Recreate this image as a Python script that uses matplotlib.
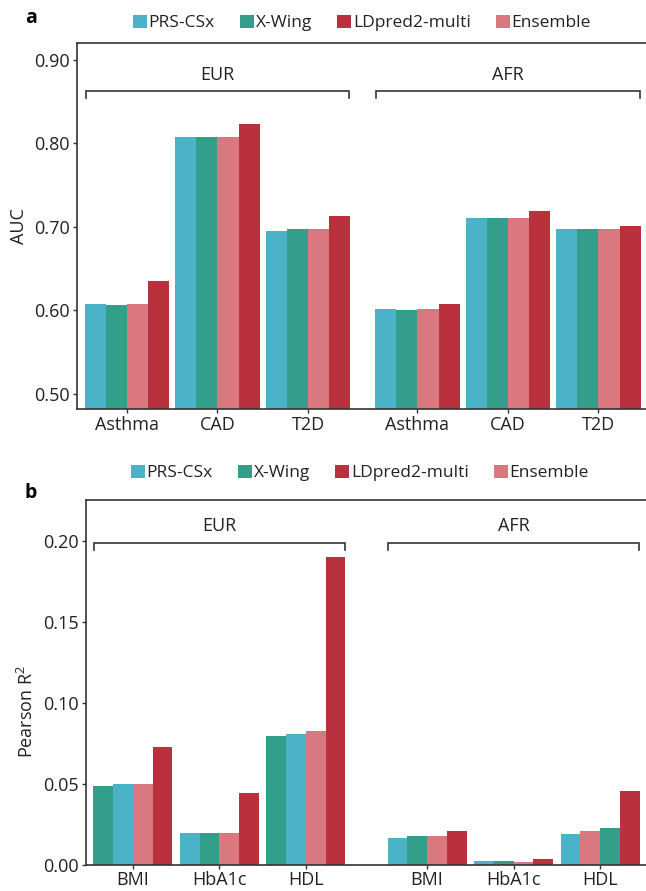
import matplotlib
matplotlib.use("Agg")
import matplotlib.pyplot as plt
from matplotlib.patches import Patch

plt.rcParams['font.family'] = ['Open Sans', 'DejaVu Sans']
plt.rcParams['mathtext.default'] = 'regular'

methods = ["PRS-CSx", "X-Wing", "LDpred2-multi", "Ensemble"]
colors = {"PRS-CSx": "#4AB3C8", "X-Wing": "#339E89",
          "LDpred2-multi": "#B9313C", "Ensemble": "#DA7880"}

# panel a: AUC, groups EUR then AFR
traits_a = ["Asthma", "CAD", "T2D"]
auc = {
    "PRS-CSx":       [0.608, 0.808, 0.695, 0.602, 0.711, 0.698],
    "X-Wing":        [0.607, 0.808, 0.698, 0.601, 0.711, 0.698],
    "Ensemble":      [0.608, 0.808, 0.698, 0.602, 0.711, 0.698],
    "LDpred2-multi": [0.635, 0.823, 0.713, 0.608, 0.719, 0.701],
}
order_a = [["PRS-CSx", "X-Wing", "Ensemble", "LDpred2-multi"]] * 6

# panel b: Pearson R^2
traits_b = ["BMI", "HbA1c", "HDL"]
r2 = {
    "PRS-CSx":       [0.0498, 0.0195, 0.0807, 0.0164, 0.0022, 0.0189],
    "X-Wing":        [0.0485, 0.0195, 0.0794, 0.0176, 0.0022, 0.0226],
    "Ensemble":      [0.0498, 0.0195, 0.0825, 0.0176, 0.0015, 0.0207],
    "LDpred2-multi": [0.0726, 0.0442, 0.1900, 0.0207, 0.0034, 0.0454],
}
order_b = [
    ["X-Wing", "PRS-CSx", "Ensemble", "LDpred2-multi"],
    ["PRS-CSx", "X-Wing", "Ensemble", "LDpred2-multi"],
    ["X-Wing", "PRS-CSx", "Ensemble", "LDpred2-multi"],
    ["PRS-CSx", "X-Wing", "Ensemble", "LDpred2-multi"],
    ["PRS-CSx", "X-Wing", "Ensemble", "LDpred2-multi"],
    ["PRS-CSx", "Ensemble", "X-Wing", "LDpred2-multi"],
]

ancestries = ["EUR", "AFR"]
axis_col = "#333333"
txt_col = "#222222"


def draw_panel(ax, traits, vals, orders, afr_offset, group_w, ylim, yticks,
               br_y, br_tick, txt_y, xlim):
    pos = [0, 1, 2] + [afr_offset + i for i in range(3)]
    labels = traits + traits
    bw = group_w / 4
    for g, x0 in enumerate(pos):
        for k, m in enumerate(orders[g]):
            ax.bar(x0 - group_w / 2 + bw * (k + 0.5), vals[m][g], width=bw,
                   color=colors[m], linewidth=0)
    ax.set_xlim(*xlim)
    ax.set_ylim(*ylim)
    ax.set_yticks(yticks)
    ax.set_yticklabels(["{:.2f}".format(v) for v in yticks], fontsize=13,
                       color=txt_col)
    ax.set_xticks(pos)
    ax.set_xticklabels(labels, fontsize=13, color=txt_col)
    ax.tick_params(axis="both", length=3, width=1, color=axis_col, pad=2)
    ax.spines["right"].set_visible(False)
    for s in ["left", "top", "bottom"]:
        ax.spines[s].set_color(axis_col)
        ax.spines[s].set_linewidth(1.2)
    # ancestry brackets
    for a, grp in enumerate([pos[:3], pos[3:]]):
        x1 = grp[0] - group_w / 2 + 0.01
        x2 = grp[-1] + group_w / 2 - 0.01
        ax.plot([x1, x1, x2, x2], [br_y - br_tick, br_y, br_y, br_y - br_tick],
                color=axis_col, lw=1.2, clip_on=False, solid_joinstyle="miter")
        ax.text((x1 + x2) / 2, txt_y, ancestries[a], ha="center", va="center",
                fontsize=13, color=txt_col)


fig = plt.figure(figsize=(6.46, 8.91), dpi=100)
W, H = 646, 891

# panel a
ax_a = fig.add_axes([77 / W, 1 - 409 / H, (W - 77) / W, 366 / H])
draw_panel(ax_a, traits_a, auc, order_a, afr_offset=3.21, group_w=0.93,
           ylim=(0.482, 0.920), yticks=[0.50, 0.60, 0.70, 0.80, 0.90],
           br_y=0.862, br_tick=0.008, txt_y=0.882, xlim=(-0.552, 5.735))
ax_a.set_ylabel("AUC", fontsize=13, color=txt_col)
ax_a.yaxis.set_label_coords(-0.086, 0.5)

# panel b
ax_b = fig.add_axes([86 / W, 1 - 864.5 / H, (W - 86) / W, 364.5 / H])
draw_panel(ax_b, traits_b, r2, order_b, afr_offset=3.4, group_w=0.913,
           ylim=(0.0, 0.2253), yticks=[0.00, 0.05, 0.10, 0.15, 0.20],
           br_y=0.1988, br_tick=0.0045, txt_y=0.2093, xlim=(-0.543, 5.931))
ax_b.set_ylabel("Pearson R$^2$", fontsize=13, color=txt_col)
ax_b.yaxis.set_label_coords(-0.088, 0.42)

# legends
handles = [Patch(facecolor=colors[m], edgecolor="none") for m in methods]
for yc, xc in [(1 - 23 / H, 362 / W), (1 - 473 / H, 360 / W)]:
    fig.legend(handles, methods, loc="center", bbox_to_anchor=(xc, yc),
               ncol=4, frameon=False, fontsize=12.5, handlelength=0.8,
               handleheight=0.8, handletextpad=0.1, columnspacing=1.45,
               borderpad=0, labelcolor=txt_col)

fig.text(31 / W, 1 - 18 / H, "a", fontsize=14, fontweight="bold",
         ha="center", va="center")
fig.text(31 / W, 1 - 493 / H, "b", fontsize=14, fontweight="bold",
         ha="center", va="center")

fig.savefig("out.png", dpi=100)
